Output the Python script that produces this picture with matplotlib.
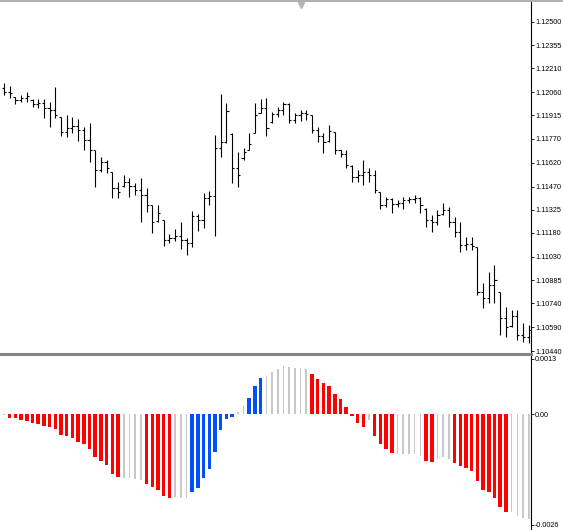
import matplotlib.pyplot as plt
from matplotlib.lines import Line2D
import numpy as np

plt.rcParams['font.family'] = ['Liberation Sans', 'DejaVu Sans']

# OHLC bars of the price window
opens = [1.12087, 1.12062, 1.12031, 1.12012, 1.12025, 1.12012, 1.11987, 1.11993, 1.11962, 1.11949,
         1.11906, 1.11812, 1.11837, 1.11849, 1.11824, 1.11762, 1.11699, 1.11574, 1.11624, 1.11561,
         1.11461, 1.11474, 1.11499, 1.11474, 1.11449, 1.11417, 1.11355, 1.11255, 1.11261, 1.11136,
         1.11148, 1.11161, 1.11136, 1.11117, 1.11286, 1.11261, 1.11399, 1.11411, 1.11711, 1.11749,
         1.11799, 1.11586, 1.11649, 1.11699, 1.11805, 1.11931, 1.11962, 1.11874, 1.11924, 1.11949,
         1.11987, 1.11887, 1.11918, 1.11931, 1.11918, 1.11824, 1.11787, 1.11755, 1.11812, 1.11699,
         1.11674, 1.11599, 1.11530, 1.11543, 1.11561, 1.11543, 1.11436, 1.11355, 1.11392, 1.11361,
         1.11367, 1.11386, 1.11392, 1.11399, 1.11330, 1.11261, 1.11248, 1.11298, 1.11323, 1.11248,
         1.11186, 1.11104, 1.11111, 1.11092, 1.10810, 1.10772, 1.10854, 1.10810, 1.10647, 1.10597,
         1.10660, 1.10541, 1.10528]
highs = [1.12118, 1.12102, 1.12033, 1.12043, 1.12060, 1.12016, 1.12016, 1.12018, 1.11998, 1.12095,
         1.11907, 1.11918, 1.11907, 1.11891, 1.11845, 1.11866, 1.11699, 1.11657, 1.11636, 1.11563,
         1.11501, 1.11543, 1.11522, 1.11491, 1.11522, 1.11461, 1.11355, 1.11355, 1.11261, 1.11173,
         1.11203, 1.11246, 1.11146, 1.11319, 1.11297, 1.11428, 1.11444, 1.11793, 1.12050, 1.11991,
         1.11803, 1.11688, 1.11710, 1.11803, 1.11991, 1.12016, 1.12026, 1.11939, 1.11970, 1.12001,
         1.11995, 1.11929, 1.11949, 1.11949, 1.11918, 1.11845, 1.11803, 1.11856, 1.11814, 1.11699,
         1.11699, 1.11605, 1.11574, 1.11636, 1.11584, 1.11574, 1.11438, 1.11407, 1.11397, 1.11386,
         1.11407, 1.11407, 1.11417, 1.11407, 1.11334, 1.11292, 1.11323, 1.11365, 1.11344, 1.11281,
         1.11250, 1.11156, 1.11156, 1.11094, 1.10865, 1.10937, 1.10979, 1.10812, 1.10718, 1.10697,
         1.10697, 1.10614, 1.10604]
lows = [1.12043, 1.12023, 1.11985, 1.12001, 1.12001, 1.11970, 1.11960, 1.11897, 1.11841, 1.11897,
        1.11788, 1.11782, 1.11803, 1.11755, 1.11699, 1.11626, 1.11466, 1.11563, 1.11553, 1.11397,
        1.11397, 1.11469, 1.11407, 1.11417, 1.11246, 1.11313, 1.11178, 1.11250, 1.11098, 1.11115,
        1.11128, 1.11077, 1.11039, 1.11094, 1.11194, 1.11209, 1.11355, 1.11163, 1.11653, 1.11741,
        1.11491, 1.11466, 1.11636, 1.11699, 1.11803, 1.11929, 1.11787, 1.11866, 1.11907, 1.11918,
        1.11866, 1.11866, 1.11882, 1.11887, 1.11803, 1.11749, 1.11678, 1.11751, 1.11674, 1.11652,
        1.11584, 1.11499, 1.11499, 1.11480, 1.11501, 1.11428, 1.11328, 1.11344, 1.11307, 1.11344,
        1.11328, 1.11365, 1.11365, 1.11303, 1.11219, 1.11188, 1.11230, 1.11292, 1.11219, 1.11156,
        1.11062, 1.11073, 1.11073, 1.10791, 1.10708, 1.10739, 1.10739, 1.10541, 1.10530, 1.10593,
        1.10510, 1.10499, 1.10489]
closes = [1.12062, 1.12056, 1.12012, 1.12025, 1.12037, 1.11987, 1.11993, 1.11962, 1.11949, 1.11918,
          1.11812, 1.11837, 1.11849, 1.11824, 1.11762, 1.11699, 1.11574, 1.11624, 1.11586, 1.11461,
          1.11436, 1.11499, 1.11474, 1.11449, 1.11417, 1.11355, 1.11248, 1.11305, 1.11136, 1.11148,
          1.11161, 1.11136, 1.11117, 1.11286, 1.11261, 1.11399, 1.11411, 1.11711, 1.11749, 1.11943,
          1.11586, 1.11543, 1.11686, 1.11737, 1.11918, 1.11962, 1.11837, 1.11924, 1.11949, 1.11987,
          1.11887, 1.11918, 1.11931, 1.11924, 1.11824, 1.11787, 1.11749, 1.11818, 1.11699, 1.11674,
          1.11605, 1.11530, 1.11543, 1.11561, 1.11543, 1.11449, 1.11355, 1.11392, 1.11361, 1.11367,
          1.11386, 1.11392, 1.11399, 1.11355, 1.11261, 1.11248, 1.11292, 1.11323, 1.11248, 1.11186,
          1.11104, 1.11111, 1.11098, 1.10810, 1.10772, 1.10854, 1.10885, 1.10647, 1.10591, 1.10660,
          1.10541, 1.10528, 1.10572]

# indicator histogram
hist = [-0.0000050, -0.0000770, -0.0000930, -0.0001320, -0.0001620, -0.0002090, -0.0002320, -0.0002710,
        -0.0002950, -0.0003550, -0.0004870, -0.0005170, -0.0005640, -0.0006570, -0.0007030, -0.0008190,
        -0.0010050, -0.0010970, -0.0011990, -0.0013920, -0.0014620, -0.0014850, -0.0015010, -0.0015150,
        -0.0015540, -0.0016470, -0.0017100, -0.0017790, -0.0019090, -0.0019560, -0.0019490, -0.0019560,
        -0.0019650, -0.0018260, -0.0017330, -0.0014920, -0.0012830, -0.0008750, -0.0003710, -0.0001090,
        -0.0000530, 0.0000630, 0.0002020, 0.0003940, 0.0006660, 0.0008420, 0.0008890, 0.0009910,
        0.0010740, 0.0011440, 0.0011210, 0.0010830, 0.0010830, 0.0010600, 0.0009580, 0.0008350,
        0.0007260, 0.0006660, 0.0004800, 0.0003550, 0.0001790, -0.0000390, -0.0002090, -0.0002950,
        -0.0001320, -0.0005170, -0.0006890, -0.0008120, -0.0009050, -0.0009350, -0.0009350, -0.0009440,
        -0.0009280, -0.0009740, -0.0010950, -0.0011140, -0.0010510, -0.0010140, -0.0010510, -0.0011370,
        -0.0012130, -0.0012690, -0.0013220, -0.0015710, -0.0017700, -0.0018170, -0.0019650, -0.0021810,
        -0.0022900, -0.0023040, -0.0023970, -0.0024430, -0.0024520]
# r = red, b = blue, g = grey
hist_colors = ("g" "rrrrrrrrrrrrrrrrrrrr" "gggg" "rrrrr" "ggg" "bbbbbbbb" "gg" "bbb"
               "gggggggg" "rrrrrrrrrr" "g" "rrrr" "ggggg" "rr" "ggg" "rrrrrrrrrr" "gggg")

price_ticks = [1.12500, 1.12355, 1.12210, 1.12060, 1.11915, 1.11770, 1.11620, 1.11470,
               1.11325, 1.11180, 1.11030, 1.10885, 1.10740, 1.10590, 1.10440]
hist_ticks = [0.0013, 0.0, -0.0026]
hist_labels = ['0.0013', '0.00', '-0.0026']

W, H = 563, 530
fig = plt.figure(figsize=(W / 100, H / 100), dpi=100)
ax1 = fig.add_axes([0, 1 - 352 / H, 531 / W, 350 / H])
ax2 = fig.add_axes([0, 0, 531 / W, 174 / H])

x = np.arange(len(closes))

ax1.vlines(x, lows, highs, color='#000000', lw=0.8)
ax1.hlines(opens, x - 0.38, x, color='#000000', lw=0.8)
ax1.hlines(closes, x, x + 0.38, color='#000000', lw=0.8)
ax1.set_xlim(-0.7, 92.4)
ax1.set_ylim(1.104345, 1.12625)
ax1.set_xticks([])
ax1.yaxis.tick_right()
ax1.set_yticks(price_ticks)
ax1.set_yticklabels(['%.5f' % p for p in price_ticks])

cmap = {'r': '#ff0000', 'b': '#0050ff', 'g': '#c8c8c8'}
colors = [cmap[c] for c in hist_colors]
widths = [0.28 if c == 'g' else 0.62 for c in hist_colors]
ax2.bar(x, hist, width=widths, color=colors)
ax2.set_xlim(-0.7, 92.4)
ax2.set_ylim(-0.002718, 0.00137)
ax2.set_xticks([])
ax2.yaxis.tick_right()
ax2.set_yticks(hist_ticks)
ax2.set_yticklabels(hist_labels)

for ax in (ax1, ax2):
    for s in ('left', 'top', 'bottom'):
        ax.spines[s].set_visible(False)
    ax.spines['right'].set_color('#000000')
    ax.spines['right'].set_linewidth(0.8)
    ax.tick_params(axis='y', direction='out', length=2, width=0.6, pad=1,
                   labelsize=5.2, colors='#000000')

# window separator, top border and shift marker
fig.add_artist(Line2D([0, 531 / W], [1 - 354 / H] * 2, lw=2.2, color='#858585'))
fig.add_artist(Line2D([0, 1], [1 - 1 / H] * 2, lw=1.2, color='#a0a0a0'))
fig.add_artist(Line2D([301 / W], [1 - 5 / H], marker='v', markersize=4,
                      color='#b4b4b4', lw=0))

fig.savefig('out.png', dpi=100)
plt.close()
